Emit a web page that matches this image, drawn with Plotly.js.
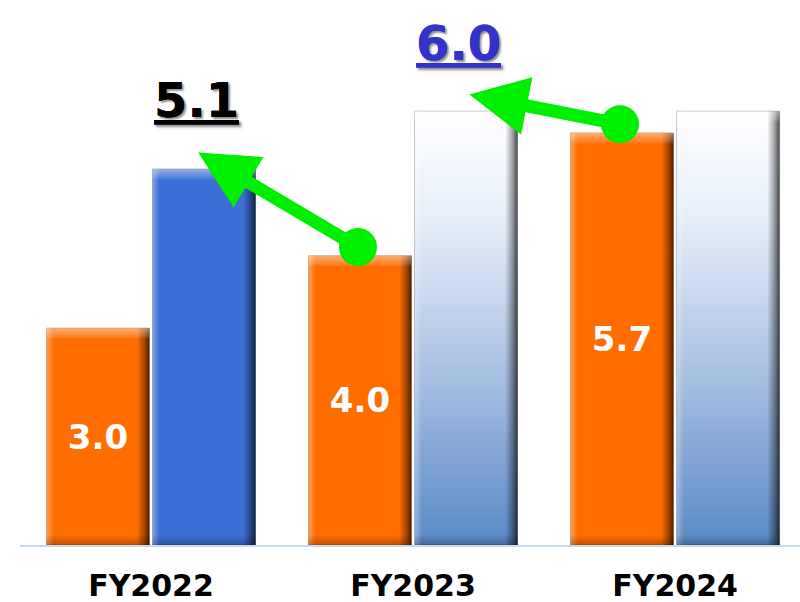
<!DOCTYPE html>
<html>
<head>
<meta charset="utf-8">
<script src="https://cdn.plot.ly/plotly-3.0.1.min.js"></script>
<style>html,body{margin:0;padding:0;background:#fff;}#chart{width:800px;height:602px;}</style>
</head>
<body>
<div id="chart"></div>
<script>
// ---- data ----
const categories = ['FY2022', 'FY2023', 'FY2024'];
const actualValues = [3.0, 4.0, 5.7];
const actualLabels = ['3.0', '4.0', '5.7'];
const planValues = [5.2, 6.0, 6.0];
const targetLabels = ['5.1', '6.0'];          // labels above FY2022 / FY2023 plan bars
const targetLabelColors = ['#000000', '#3333cc'];

const idx = categories.map((c, i) => i);
const FONT = 'DejaVu Sans, Verdana, sans-serif';
const GREEN = '#00ee00';

const planColors = ['#3b6fd6', '#dde8f5', '#dde8f5'];

const data = [
  {
    type: 'bar', x: idx, y: actualValues, text: actualLabels,
    textposition: 'inside', insidetextanchor: 'middle', constraintext: 'none', textangle: 0,
    textfont: {family: FONT, size: 34, color: '#ffffff', weight: 'bold'},
    marker: {color: '#ff6d00', line: {color: 'rgba(120,50,0,0.35)', width: 1}},
    hoverinfo: 'skip', showlegend: false
  },
  {
    type: 'bar', x: idx, y: planValues,
    marker: {color: planColors, line: {color: 'rgba(60,60,60,0.35)', width: 1}},
    hoverinfo: 'skip', showlegend: false
  }
];

// arrows: from actual bar of year i to plan bar of year i-1
const headOffsets = [0.18, 0.215];
const tailX = [], tailY = [];
const annotations = [];
for (let i = 1; i < categories.length; i++) {
  const tx = i - 0.21, ty = actualValues[i] + 0.12;
  const hx = (i - 1) + headOffsets[i - 1], hy = planValues[i - 1] + 0.23;
  tailX.push(tx); tailY.push(ty);
  annotations.push({
    x: hx, y: hy, ax: tx, ay: ty, xref: 'x', yref: 'y', axref: 'x', ayref: 'y',
    text: '', showarrow: true, arrowhead: 2, arrowsize: 0.9, arrowwidth: 13,
    arrowcolor: GREEN, standoff: 0, startstandoff: 0
  });
  annotations.push({
    x: (i - 1) + 0.175, y: planValues[i - 1] + 0.95, xref: 'x', yref: 'y',
    text: '<u>' + targetLabels[i - 1] + '</u>', showarrow: false,
    font: {family: FONT, size: 48, color: targetLabelColors[i - 1], weight: 'bold',
           shadow: '2px 2px 2px rgba(0,0,0,0.25)'},
    xanchor: 'center', yanchor: 'middle'
  });
}
data.push({
  type: 'scatter', mode: 'markers', x: tailX, y: tailY,
  marker: {color: GREEN, size: 38, line: {width: 0}},
  hoverinfo: 'skip', showlegend: false, cliponaxis: false
});

const layout = {
  width: 800, height: 602,
  margin: {l: 20, r: 0, t: 0, b: 57, pad: 0},
  paper_bgcolor: '#ffffff', plot_bgcolor: '#ffffff',
  barmode: 'group', bargap: 0.19, bargroupgap: 0.03,
  xaxis: {
    range: [-0.5, 2.477], tickvals: idx, ticktext: categories,
    showgrid: false, zeroline: false, showline: true, linecolor: '#c9daf0', linewidth: 2,
    ticks: '', ticklabelstandoff: 13,
    tickfont: {family: FONT, size: 30, color: '#000000', weight: 'bold'},
    fixedrange: true
  },
  yaxis: {range: [0, 7.538], visible: false, showgrid: false, zeroline: false, fixedrange: true},
  annotations: annotations,
  showlegend: false
};

const gd = document.getElementById('chart');
Plotly.newPlot(gd, data, layout, {staticPlot: true, displayModeBar: false}).then(function () {
  const NS = 'http://www.w3.org/2000/svg';
  const svg = gd.querySelector('.main-svg');
  let defs = svg.querySelector('defs');
  if (!defs) { defs = document.createElementNS(NS, 'defs'); svg.insertBefore(defs, svg.firstChild); }
  function makeGrad(id, x1, y1, x2, y2, stops, units, bbox) {
    const g = document.createElementNS(NS, 'linearGradient');
    g.setAttribute('id', id);
    if (units === 'user') {
      g.setAttribute('gradientUnits', 'userSpaceOnUse');
      g.setAttribute('x1', bbox.x); g.setAttribute('x2', bbox.x);
      g.setAttribute('y1', bbox.y); g.setAttribute('y2', bbox.y + bbox.height);
    } else {
      g.setAttribute('x1', x1); g.setAttribute('y1', y1);
      g.setAttribute('x2', x2); g.setAttribute('y2', y2);
    }
    stops.forEach(function (s) {
      const st = document.createElementNS(NS, 'stop');
      st.setAttribute('offset', s[0]);
      st.setAttribute('stop-color', s[1]);
      st.setAttribute('stop-opacity', s[2] === undefined ? 1 : s[2]);
      g.appendChild(st);
    });
    defs.appendChild(g);
  }
  makeGrad('whiteFill', 0, 0, 0, 1, [[0, '#ffffff'], [0.25, '#e6eef9'], [0.6, '#a9c1e2'], [1, '#5a89c6']]);
  makeGrad('edgeH', 0, 0, 1, 0, [[0, '#ffffff', 0.35], [0.07, '#ffffff', 0], [0.88, '#000000', 0], [0.95, '#000000', 0.35], [1, '#000000', 0.7]]);

  const traces = gd.querySelectorAll('.barlayer .trace');
  let n = 0;
  traces.forEach(function (tr, ti) {
    tr.querySelectorAll('.point').forEach(function (pt, pi) {
      const p = pt.querySelector('path');
      if (!p) return;
      if (ti === 1 && pi > 0) p.style.fill = 'url(#whiteFill)';
      const c1 = p.cloneNode(false);
      c1.style.fill = 'url(#edgeH)'; c1.style.stroke = 'none'; c1.style.fillOpacity = 1;
      p.parentNode.insertBefore(c1, p.nextSibling);
      const bb = p.getBBox();
      const h = bb.height;
      const id = 'bevV' + (n++);
      makeGrad(id, 0, 0, 0, 0, [
        [0, '#ffffff', 0.45], [Math.min(0.5, 9 / h), '#ffffff', 0.12], [Math.min(0.5, 11 / h), '#ffffff', 0],
        [Math.max(0.5, 1 - 10 / h), '#000000', 0], [1, '#000000', 0.25]
      ], 'user', bb);
      const c2 = p.cloneNode(false);
      c2.style.fill = 'url(#' + id + ')'; c2.style.stroke = 'none'; c2.style.fillOpacity = 1;
      c1.parentNode.insertBefore(c2, c1.nextSibling);
    });
  });
});
</script>
</body>
</html>
